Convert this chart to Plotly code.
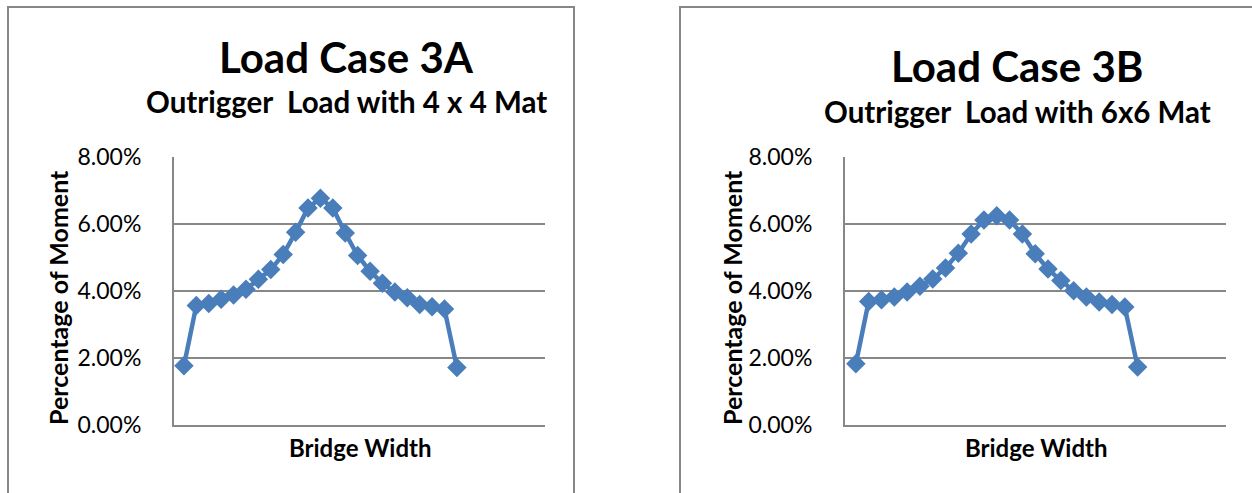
import plotly.graph_objects as go

# positions along the bridge width (one per measured girder)
positions = list(range(1, 24))

# percentage of moment for each position
case_3a = [1.77, 3.57, 3.63, 3.75, 3.88, 4.05, 4.35, 4.64, 5.09, 5.75, 6.48, 6.77,
           6.48, 5.73, 5.06, 4.59, 4.23, 3.97, 3.80, 3.60, 3.53, 3.46, 1.72]
case_3b = [1.83, 3.69, 3.74, 3.82, 3.97, 4.14, 4.36, 4.69, 5.13, 5.70, 6.12, 6.25,
           6.12, 5.70, 5.11, 4.66, 4.31, 4.01, 3.82, 3.67, 3.60, 3.52, 1.73]

titles = ["Load Case 3A", "Load Case 3B"]
subtitles = ["Outrigger  Load with 4 x 4 Mat", "Outrigger  Load with 6x6 Mat"]
y_ticks = [0, 2, 4, 6, 8]
y_labels = ["%.2f%%" % v for v in y_ticks]

W, H = 1252, 493
blue = "#4A7EBB"
grey = "#878787"
font = "Lato"


def px(x):
    return x / W


def py(y):
    # convert a pixel row (from top) to paper fraction
    return (H - y) / H


fig = go.Figure()

# each panel: trace, axis, box and texts
panels = [
    dict(data=case_3a, x0=174, x1=545, xr=[0.2, 30.1], cx=346, ty=57, sy=102, ytx=58, box=(8, 574)),
    dict(data=case_3b, x0=845, x1=1226, xr=[0.15, 29.9], cx=1017, ty=66, sy=111, ytx=732, box=(680, 1262)),
]

for i, p in enumerate(panels):
    n = "" if i == 0 else str(i + 1)
    fig.add_trace(go.Scatter(
        x=positions, y=p["data"], mode="lines+markers",
        line=dict(color=blue, width=4.5),
        marker=dict(symbol="diamond", size=15, color=blue),
        xaxis="x" + n, yaxis="y" + n, showlegend=False,
    ))

    fig.update_layout({
        "xaxis" + n: dict(domain=[px(p["x0"]), px(p["x1"])], range=p["xr"], anchor="y" + n,
                          showgrid=False, zeroline=False, showticklabels=False,
                          showline=True, linecolor=grey, linewidth=2, automargin=False),
        "yaxis" + n: dict(domain=[py(425), py(157)], range=[0, 8], anchor="x" + n,
                          tickvals=y_ticks, ticktext=y_labels,
                          showgrid=True, gridcolor=grey, gridwidth=2,
                          zeroline=False, showline=True, linecolor=grey, linewidth=2,
                          ticklabelstandoff=26, automargin=False,
                          tickfont=dict(family=font, size=23, color="#000000")),
    })

    # outer chart border
    fig.add_shape(type="rect", xref="paper", yref="paper",
                  x0=px(p["box"][0]), x1=px(p["box"][1]), y0=py(520), y1=py(7),
                  line=dict(color=grey, width=2))

    common = dict(xref="paper", yref="paper", showarrow=False,
                  xanchor="center", yanchor="middle")
    fig.add_annotation(text="<b>" + titles[i] + "</b>",
                       x=px(p["cx"]), y=py(p["ty"]),
                       font=dict(family=font, size=42, color="#000000"), **common)
    fig.add_annotation(text="<b>" + subtitles[i] + "</b>",
                       x=px(p["cx"]), y=py(p["sy"]),
                       font=dict(family=font, size=29.5, color="#000000"), **common)
    fig.add_annotation(text="<b>Percentage of Moment</b>",
                       x=px(p["ytx"]), y=py(298), textangle=-90,
                       font=dict(family=font, size=25, color="#000000"), **common)
    fig.add_annotation(text="<b>Bridge Width</b>",
                       x=px((p["x0"] + p["x1"]) / 2), y=py(447),
                       font=dict(family=font, size=24, color="#000000"), **common)

fig.update_layout(width=W, height=H, margin=dict(l=0, r=0, t=0, b=0, autoexpand=False),
                  paper_bgcolor="white", plot_bgcolor="white")

fig.write_html("out.html", config={"displayModeBar": False},
               post_script="document.body.style.margin='0';")
